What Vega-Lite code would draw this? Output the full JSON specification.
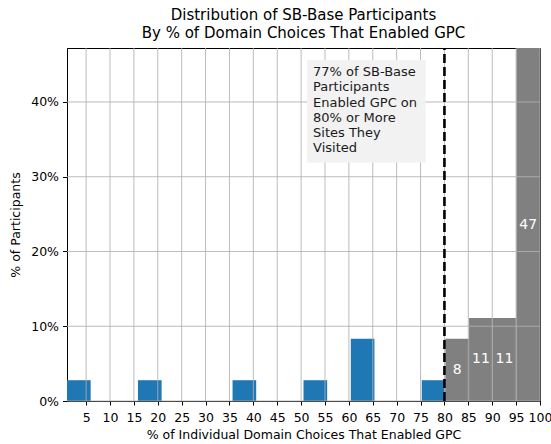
{
  "$schema": "https://vega.github.io/schema/vega-lite/v6.json",
  "width": 473,
  "height": 353,
  "autosize": {"type": "none"},
  "padding": {"left": 67, "top": 48, "right": 11, "bottom": 43},
  "background": "white",
  "config": {
    "view": {"stroke": "black", "strokeWidth": 1},
    "font": "DejaVu Sans",
    "text": {"font": "DejaVu Sans"},
    "axis": {
      "grid": false, "labelOverlap": false, "labelBound": false, "labelFlush": false,
      "domainColor": "black", "tickColor": "black", "labelColor": "black", "titleColor": "black",
      "labelFont": "DejaVu Sans", "titleFont": "DejaVu Sans", "labelFontSize": 12.5, "titleFontSize": 12.5,
      "titleFontWeight": "normal"
    },
    "axisX": {"tickSize": 4, "labelPadding": 6, "titlePadding": 5},
    "axisY": {"tickSize": 4.5, "labelPadding": 4, "titlePadding": 8}
  },
  "title": {
    "text": ["Distribution of SB-Base Participants", "By % of Domain Choices That Enabled GPC"],
    "fontSize": 15,
    "fontWeight": "normal",
    "font": "DejaVu Sans",
    "color": "black",
    "anchor": "middle",
    "lineHeight": 17.5,
    "offset": 6
  },
  "datasets": {
    "bins": [
      {"start": 1, "end": 5.95, "pct": 2.78, "grp": "below", "label": "3"},
      {"start": 15.85, "end": 20.8, "pct": 2.78, "grp": "below", "label": "3"},
      {"start": 35.65, "end": 40.6, "pct": 2.78, "grp": "below", "label": "3"},
      {"start": 50.5, "end": 55.45, "pct": 2.78, "grp": "below", "label": "3"},
      {"start": 60.4, "end": 65.35, "pct": 8.33, "grp": "below", "label": "8"},
      {"start": 75.25, "end": 80.2, "pct": 2.78, "grp": "below", "label": "3"},
      {"start": 80.2, "end": 85.15, "pct": 8.33, "grp": "above", "label": "8"},
      {"start": 85.15, "end": 90.1, "pct": 11.11, "grp": "above", "label": "11"},
      {"start": 90.1, "end": 95.05, "pct": 11.11, "grp": "above", "label": "11"},
      {"start": 95.05, "end": 100, "pct": 47.22, "grp": "above", "label": "47"}
    ],
    "xgrid": [
      {"v": 5}, {"v": 10}, {"v": 15}, {"v": 20}, {"v": 25}, {"v": 30}, {"v": 35}, {"v": 40}, {"v": 45}, {"v": 50},
      {"v": 55}, {"v": 60}, {"v": 65}, {"v": 70}, {"v": 75}, {"v": 80}, {"v": 85}, {"v": 90}, {"v": 95}, {"v": 100}
    ],
    "ygrid": [{"v": 0}, {"v": 10}, {"v": 20}, {"v": 30}, {"v": 40}]
  },
  "layer": [
    {
      "data": {"name": "bins"},
      "mark": {"type": "rect"},
      "encoding": {
        "x": {
          "field": "start", "type": "quantitative",
          "scale": {"domain": [1, 100], "nice": false, "zero": false},
          "axis": {"values": [5, 10, 15, 20, 25, 30, 35, 40, 45, 50, 55, 60, 65, 70, 75, 80, 85, 90, 95, 100], "labelOverlap": false, "title": "% of Individual Domain Choices That Enabled GPC"}
        },
        "x2": {"field": "end"},
        "y": {
          "field": "pct", "type": "quantitative",
          "scale": {"domain": [0, 47.22], "nice": false},
          "axis": {"values": [0, 10, 20, 30, 40], "labelExpr": "datum.value + '%'", "title": "% of Participants"}
        },
        "y2": {"datum": 0},
        "color": {
          "field": "grp", "type": "nominal",
          "scale": {"domain": ["below", "above"], "range": ["#1f77b4", "#808080"]},
          "legend": null
        }
      }
    },
    {
      "data": {"name": "xgrid"},
      "mark": {"type": "rule", "color": "#b0b0b0", "strokeWidth": 1, "opacity": 0.85},
      "encoding": {
        "x": {"field": "v", "type": "quantitative",
          "axis": {"values": [5, 10, 15, 20, 25, 30, 35, 40, 45, 50, 55, 60, 65, 70, 75, 80, 85, 90, 95, 100], "labelOverlap": false, "title": "% of Individual Domain Choices That Enabled GPC"}}
      }
    },
    {
      "data": {"name": "ygrid"},
      "mark": {"type": "rule", "color": "#b0b0b0", "strokeWidth": 1, "opacity": 0.85},
      "encoding": {
        "y": {"field": "v", "type": "quantitative",
          "axis": {"values": [0, 10, 20, 30, 40], "labelExpr": "datum.value + '%'", "title": "% of Participants"}}
      }
    },
    {
      "data": {"values": [{}]},
      "mark": {"type": "rect", "color": "#f2f2f2"},
      "encoding": {
        "x": {"datum": 51.26, "type": "quantitative",
          "axis": {"values": [5, 10, 15, 20, 25, 30, 35, 40, 45, 50, 55, 60, 65, 70, 75, 80, 85, 90, 95, 100], "labelOverlap": false, "title": "% of Individual Domain Choices That Enabled GPC"}},
        "x2": {"datum": 76.06},
        "y": {"datum": 31.9, "type": "quantitative",
          "axis": {"values": [0, 10, 20, 30, 40], "labelExpr": "datum.value + '%'", "title": "% of Participants"}},
        "y2": {"datum": 45.6}
      }
    },
    {
      "data": {"values": [{}]},
      "mark": {"type": "text", "align": "left", "baseline": "alphabetic", "fontSize": 13, "lineHeight": 15.2, "color": "#1a1a1a", "font": "DejaVu Sans"},
      "encoding": {
        "x": {"datum": 52.5, "type": "quantitative",
          "axis": {"values": [5, 10, 15, 20, 25, 30, 35, 40, 45, 50, 55, 60, 65, 70, 75, 80, 85, 90, 95, 100], "labelOverlap": false, "title": "% of Individual Domain Choices That Enabled GPC"}},
        "y": {"datum": 43.45, "type": "quantitative",
          "axis": {"values": [0, 10, 20, 30, 40], "labelExpr": "datum.value + '%'", "title": "% of Participants"}},
        "text": {"value": ["77% of SB-Base", "Participants", "Enabled GPC on", "80% or More", "Sites They", "Visited"]}
      }
    },
    {
      "data": {"values": [{}]},
      "mark": {"type": "rule", "color": "black", "strokeWidth": 2.6, "strokeDash": [9, 4]},
      "encoding": {
        "x": {"datum": 80, "type": "quantitative",
          "axis": {"values": [5, 10, 15, 20, 25, 30, 35, 40, 45, 50, 55, 60, 65, 70, 75, 80, 85, 90, 95, 100], "labelOverlap": false, "title": "% of Individual Domain Choices That Enabled GPC"}},
        "y": {"datum": 0, "type": "quantitative",
          "axis": {"values": [0, 10, 20, 30, 40], "labelExpr": "datum.value + '%'", "title": "% of Participants"}},
        "y2": {"datum": 47.22}
      }
    },
    {
      "data": {"name": "bins"},
      "transform": [
        {"filter": "datum.grp === 'above'"},
        {"calculate": "(datum.start + datum.end) / 2", "as": "mid"},
        {"calculate": "datum.pct / 2", "as": "half"}
      ],
      "mark": {"type": "text", "color": "white", "fontSize": 14, "align": "center", "baseline": "middle", "font": "DejaVu Sans"},
      "encoding": {
        "x": {"field": "mid", "type": "quantitative",
          "axis": {"values": [5, 10, 15, 20, 25, 30, 35, 40, 45, 50, 55, 60, 65, 70, 75, 80, 85, 90, 95, 100], "labelOverlap": false, "title": "% of Individual Domain Choices That Enabled GPC"}},
        "y": {"field": "half", "type": "quantitative",
          "axis": {"values": [0, 10, 20, 30, 40], "labelExpr": "datum.value + '%'", "title": "% of Participants"}},
        "text": {"field": "label"}
      }
    }
  ]
}
